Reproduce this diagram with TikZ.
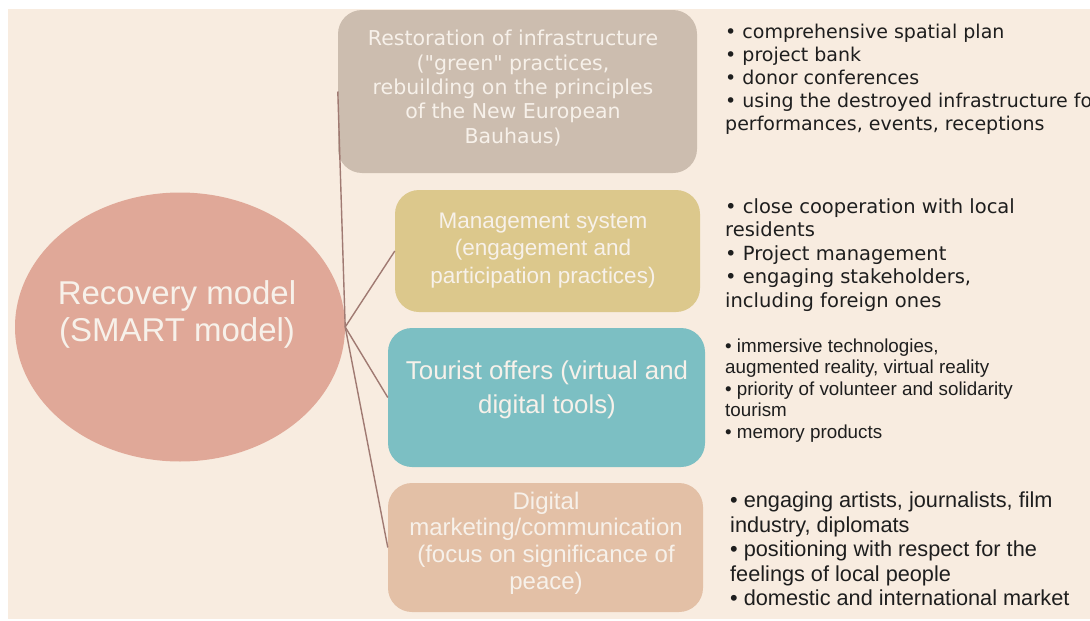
\documentclass[tikz,border=0pt]{standalone}
\usepackage{fontspec}
\setmainfont{Liberation Sans}
\newfontfamily\dvs{DejaVu Sans}
\usetikzlibrary{shapes.geometric}
\definecolor{bgc}{HTML}{F8ECE0}
\definecolor{ellc}{HTML}{E0A898}
\definecolor{boxa}{HTML}{CCBDAF}
\definecolor{boxb}{HTML}{DCC88C}
\definecolor{boxc}{HTML}{7CBFC3}
\definecolor{boxd}{HTML}{E3C0A6}
\definecolor{linec}{HTML}{A07A72}
\definecolor{wtxt}{HTML}{F7F1EA}
\definecolor{dtxt}{HTML}{1E1E1E}
\begin{document}
\begin{tikzpicture}[x=1pt,y=-1pt,
  roundbox/.style={rectangle, rounded corners=24pt, inner sep=0pt, draw=none},
  btext/.style={inner sep=0pt, align=center, text=wtxt},
  rtext/.style={inner sep=0pt, align=left, anchor=north west, text=dtxt},
  conn/.style={draw=linec, line width=1.4pt}]
\useasboundingbox (0,0) rectangle (1090,621);
\fill[white] (0,0) rectangle (1090,621);
\fill[bgc] (8,9) rectangle (1090,619);

% central ellipse
\node[ellipse, fill=ellc, minimum width=330pt, minimum height=269pt, inner sep=0pt] (ell) at (180,327) {};
\node[btext, font=\fontsize{33}{37}\selectfont] (ellt) at (177,314) {Recovery model\\(SMART model)};

% boxes
\node[roundbox, fill=boxa, minimum width=359pt, minimum height=163pt] (b1) at (517.5,91.5) {};
\node[roundbox, fill=boxb, minimum width=305pt, minimum height=122pt] (b2) at (547.5,251) {};
\node[roundbox, fill=boxc, minimum width=317pt, minimum height=139pt] (b3) at (546.5,397.5) {};
\node[roundbox, fill=boxd, minimum width=315pt, minimum height=129pt] (b4) at (545.5,547.5) {};

\node[btext, font=\dvs\fontsize{20.5}{24.3}\selectfont] (b1t) at (513,88) {Restoration of infrastructure\\(\char34 green\char34\ practices,\\rebuilding on the principles\\of the New European\\Bauhaus)};
\node[btext, font=\fontsize{22.5}{27.5}\selectfont] (b2t) at (543,250.5) {Management system\\(engagement and\\participation practices)};
\node[btext, font=\fontsize{25.8}{34}\selectfont] (b3t) at (547,390) {Tourist offers (virtual and\\digital tools)};
\node[btext, font=\fontsize{24}{26.7}\selectfont] (b4t) at (546,543) {Digital\\marketing/communication\\(focus on significance of\\peace)};

% connectors
\draw[conn] (ell.east) -- (b1.west);
\draw[conn] (ell.east) -- (b2.west);
\draw[conn] (ell.east) -- (b3.west);
\draw[conn] (ell.east) -- (b4.west);

% right text blocks
\node[rtext, font=\dvs\fontsize{19}{23}\selectfont] (r1) at (725,23.6) {• comprehensive spatial plan\\• project bank\\• donor conferences\\• using the destroyed infrastructure for\\performances, events, receptions};
\node[rtext, font=\dvs\fontsize{19.5}{23.5}\selectfont] (r2) at (725,198) {• close cooperation with local\\residents\\• Project management\\• engaging stakeholders,\\including foreign ones};
\node[rtext, font=\fontsize{18.8}{21.5}\selectfont] (r3) at (725,338.5) {• immersive technologies,\\augmented reality, virtual reality\\• priority of volunteer and solidarity\\tourism\\• memory products};
\node[rtext, font=\fontsize{21.7}{24.5}\selectfont] (r4) at (730,492) {• engaging artists, journalists, film\\industry, diplomats\\• positioning with respect for the\\feelings of local people\\• domestic and international market};
\end{tikzpicture}
\end{document}
